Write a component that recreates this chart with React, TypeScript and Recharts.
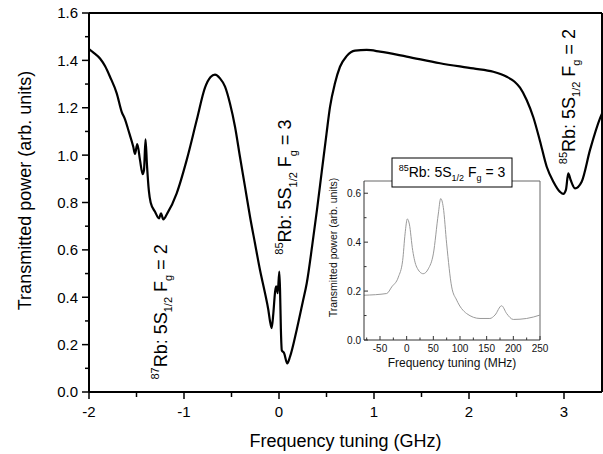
import React from 'react';
import { LineChart, Line, XAxis, YAxis, ReferenceLine, ReferenceDot } from 'recharts';

const FONT = '"Liberation Sans", Arial, Helvetica, sans-serif';

// ---- main spectrum (GHz, arb. units) ----
const mainFrequencyGHz = [
  -2.0, -1.95, -1.884, -1.83, -1.779, -1.708, -1.656, -1.62, -1.586, -1.534, -1.516, -1.492,
  -1.463, -1.435, -1.421, -1.405, -1.39, -1.37, -1.351, -1.305, -1.263, -1.242, -1.218, -1.176,
  -1.077, -0.972, -0.866, -0.779, -0.72, -0.674, -0.621, -0.568, -0.516, -0.463, -0.411, -0.358,
  -0.305, -0.253, -0.2, -0.147, -0.112, -0.095, -0.077, -0.06, -0.042, -0.032, -0.024, -0.014,
  0.003, 0.011, 0.02, 0.03, 0.053, 0.087, 0.116, 0.186, 0.25, 0.292, 0.35, 0.4, 0.45, 0.5, 0.537,
  0.589, 0.642, 0.712, 0.8, 0.923, 1.063, 1.344, 1.695, 2.045, 2.256, 2.397, 2.48, 2.537, 2.607,
  2.677, 2.747, 2.818, 2.888, 2.958, 2.993, 3.02, 3.045, 3.07, 3.116, 3.186, 3.274, 3.379, 3.4,
];
const mainTransmittedPower = [
  1.448, 1.432, 1.408, 1.375, 1.331, 1.261, 1.183, 1.15, 1.106, 1.035, 1.005, 1.047,
  0.979, 0.92, 0.937, 1.067, 0.96, 0.85, 0.8, 0.761, 0.733, 0.754, 0.729, 0.754,
  0.839, 0.979, 1.148, 1.285, 1.33, 1.34, 1.324, 1.289, 1.218, 1.12, 0.993, 0.867,
  0.74, 0.628, 0.515, 0.417, 0.346, 0.3, 0.27, 0.33, 0.42, 0.445, 0.445, 0.417,
  0.508, 0.43, 0.262, 0.175, 0.165, 0.121, 0.149, 0.262, 0.38, 0.459, 0.62, 0.77, 0.93, 1.09, 1.204,
  1.303, 1.373, 1.418, 1.441, 1.444, 1.437, 1.416, 1.388, 1.366, 1.352, 1.331, 1.31, 1.285, 1.233,
  1.16, 1.06, 0.951, 0.888, 0.845, 0.836, 0.853, 0.923, 0.895, 0.86, 0.888, 1.022, 1.155, 1.175,
];
const mainXTicks = [-2, -1.5, -1, -0.5, 0, 0.5, 1, 1.5, 2, 2.5, 3];
const mainYTicks = [0, 0.1, 0.2, 0.3, 0.4, 0.5, 0.6, 0.7, 0.8, 0.9, 1.0, 1.1, 1.2, 1.3, 1.4, 1.5, 1.6];

// ---- inset spectrum (MHz, arb. units) ----
const insetFrequencyMHz = [
  -80, -37.5, -28, -15.6, -7.5, -3, 1.3, 5, 11.3, 18.8, 31, 40.6, 50, 59.3, 63.8, 68.7, 75,
  84.4, 93.8, 112.5, 137.5, 156, 165.6, 178, 187.5, 200, 225, 250,
];
const insetTransmittedPower = [
  0.183, 0.19, 0.217, 0.257, 0.325, 0.434, 0.495, 0.474, 0.366, 0.298, 0.271, 0.291, 0.352, 0.515,
  0.578, 0.542, 0.393, 0.217, 0.163, 0.108, 0.088, 0.088, 0.102, 0.14, 0.108, 0.084, 0.088, 0.102,
];
const insetXTicks = [-75, -50, -25, 0, 25, 50, 75, 100, 125, 150, 175, 200, 225, 250];
const insetYTicks = [0, 0.1, 0.2, 0.3, 0.4, 0.5, 0.6];

// ---- texts ----
const mainXTitle = 'Frequency tuning (GHz)';
const mainYTitle = 'Transmitted power (arb. units)';
const insetXTitle = 'Frequency tuning (MHz)';
const insetYTitle = 'Transmitted power (arb. units)';
const annotationIsotope = ['87', '85', '85'];
const annotationFg = ['2', '3', '2'];
const insetIsotope = '85';
const insetFg = '3';

const mainData = mainFrequencyGHz.map((x, i) => ({ x, y: mainTransmittedPower[i] }));
const insetData = insetFrequencyMHz.map((x, i) => ({ x, y: insetTransmittedPower[i] }));

// anchors of the rotated annotations (data coordinates)
const annotationAnchors = [
  { x: -1.179, y: 0.338 },
  { x: 0.13, y: 0.865 },
  { x: 3.116, y: 1.247 },
];

const MainXTick = (props: any) => {
  const { x, y, payload } = props;
  const v = payload.value;
  const major = Number.isInteger(v);
  return (
    <g>
      <line x1={x} x2={x} y1={y} y2={y + (major ? 7 : 5)} stroke="#000" strokeWidth={1.5} />
      {major && (
        <text x={x} y={y + 25} textAnchor="middle" fontSize={15} fontFamily={FONT} fill="#000">
          {String(v)}
        </text>
      )}
    </g>
  );
};

const MainYTick = (props: any) => {
  const { x, y, payload } = props;
  const v = payload.value;
  const major = Math.round(v * 10) % 2 === 0;
  return (
    <g>
      <line x1={x - (major ? 7 : 4)} x2={x} y1={y} y2={y} stroke="#000" strokeWidth={1.5} />
      {major && (
        <text x={x - 11} y={y} dy="0.36em" textAnchor="end" fontSize={15} fontFamily={FONT} fill="#000">
          {v.toFixed(1)}
        </text>
      )}
    </g>
  );
};

const InsetXTick = (props: any) => {
  const { x, y, payload } = props;
  const v = payload.value;
  const major = v % 50 === 0;
  return (
    <g>
      <line x1={x} x2={x} y1={y} y2={y - (major ? 4 : 2.5)} stroke="#333" strokeWidth={1} />
      {major && (
        <text x={x} y={y + 12} textAnchor="middle" fontSize={10} fontFamily={FONT} fill="#111">
          {String(v)}
        </text>
      )}
    </g>
  );
};

const InsetYTick = (props: any) => {
  const { x, y, payload } = props;
  const v = payload.value;
  const major = Math.round(v * 10) % 2 === 0;
  return (
    <g>
      <line x1={x} x2={x + (major ? 4 : 2.5)} y1={y} y2={y} stroke="#333" strokeWidth={1} />
      {major && (
        <text x={x - 3} y={y} dy="0.35em" textAnchor="end" fontSize={10} fontFamily={FONT} fill="#111">
          {v.toFixed(1)}
        </text>
      )}
    </g>
  );
};

const RbText = (p: { iso: string; fg: string; size: number; small: number }) => {
  const sup = p.size * 0.45;
  const sub = p.size * 0.3;
  return (
    <>
      <tspan fontSize={p.small} dy={-sup}>{p.iso}</tspan>
      <tspan dy={sup}>Rb: 5S</tspan>
      <tspan fontSize={p.small} dy={sub}>1/2</tspan>
      <tspan dy={-sub}> F</tspan>
      <tspan fontSize={p.small} dy={sub}>g</tspan>
      <tspan dy={-sub}> = {p.fg}</tspan>
    </>
  );
};

const makeRotLabel = (iso: string, fg: string) => (props: any) => {
  const { cx, cy } = props;
  return (
    <text
      transform={`translate(${cx},${cy}) rotate(-90)`}
      textAnchor="middle"
      fontSize={18}
      fontFamily={FONT}
      fill="#000"
    >
      <RbText iso={iso} fg={fg} size={18} small={11} />
    </text>
  );
};

const InsetTitleBox = (props: any) => {
  const { cx, cy } = props;
  return (
    <g>
      <rect x={cx - 60} y={cy - 23} width={120} height={29} fill="#fff" stroke="#000" strokeWidth={1} />
      <text x={cx} y={cy - 4} textAnchor="middle" fontSize={14} fontFamily={FONT} fill="#000">
        <RbText iso={insetIsotope} fg={insetFg} size={14} small={9} />
      </text>
    </g>
  );
};

const MainYTitle = (props: any) => {
  const vb = props.viewBox;
  return (
    <text
      transform={`translate(${vb.x + 31},${vb.y + vb.height / 2 - 12}) rotate(-90)`}
      textAnchor="middle"
      fontSize={18}
      fontFamily={FONT}
      fill="#000"
    >
      {mainYTitle}
    </text>
  );
};

const MainXTitle = (props: any) => {
  const vb = props.viewBox;
  return (
    <text x={vb.x + vb.width / 2} y={vb.y + 55} textAnchor="middle" fontSize={18} fontFamily={FONT} fill="#000">
      {mainXTitle}
    </text>
  );
};

const InsetYTitle = (props: any) => {
  const vb = props.viewBox;
  return (
    <text
      transform={`translate(${vb.x + 37},${vb.y + vb.height / 2 - 13}) rotate(-90)`}
      textAnchor="middle"
      fontSize={10.5}
      fontFamily={FONT}
      fill="#111"
    >
      {insetYTitle}
    </text>
  );
};

const InsetXTitle = (props: any) => {
  const vb = props.viewBox;
  return (
    <text x={vb.x + vb.width / 2} y={vb.y + 27} textAnchor="middle" fontSize={12} fontFamily={FONT} fill="#111">
      {insetXTitle}
    </text>
  );
};

export default function App() {
  return (
    <div style={{ position: 'absolute', left: 0, top: 0, width: 603, height: 454, background: '#fff' }}>
      <div style={{ position: 'absolute', left: 0, top: 0 }}>
        <LineChart width={603} height={454} data={mainData} margin={{ top: 13, right: 1, left: 0, bottom: 0 }}>
          <XAxis
            dataKey="x"
            type="number"
            domain={[-2, 3.4]}
            ticks={mainXTicks}
            interval={0}
            tickSize={0}
            tickMargin={0}
            tickLine={false}
            tick={<MainXTick />}
            axisLine={{ stroke: '#000', strokeWidth: 2 }}
            height={62}
            allowDataOverflow
            label={{ content: MainXTitle }}
          />
          <YAxis
            dataKey="y"
            type="number"
            domain={[0, 1.6]}
            ticks={mainYTicks}
            interval={0}
            tickSize={0}
            tickMargin={0}
            tickLine={false}
            tick={<MainYTick />}
            axisLine={{ stroke: '#000', strokeWidth: 2 }}
            width={89}
            allowDataOverflow
            label={{ content: MainYTitle }}
          />
          <ReferenceLine y={1.6} stroke="#000" strokeWidth={2} ifOverflow="visible" />
          <ReferenceLine x={3.4} stroke="#000" strokeWidth={2} ifOverflow="visible" />
          <Line
            type="monotone"
            dataKey="y"
            stroke="#000"
            strokeWidth={2.2}
            dot={false}
            activeDot={false}
            isAnimationActive={false}
          />
          {annotationAnchors.map((a, i) => (
            <ReferenceDot
              key={i}
              x={a.x}
              y={a.y}
              r={0}
              ifOverflow="visible"
              shape={makeRotLabel(annotationIsotope[i], annotationFg[i])}
            />
          ))}
        </LineChart>
      </div>
      <div style={{ position: 'absolute', left: 300, top: 150 }}>
        <LineChart width={250} height={230} data={insetData} margin={{ top: 31, right: 10, left: 0, bottom: 0 }}>
          <XAxis
            dataKey="x"
            type="number"
            domain={[-80, 250]}
            ticks={insetXTicks}
            interval={0}
            tickSize={0}
            tickMargin={0}
            tickLine={false}
            tick={<InsetXTick />}
            axisLine={{ stroke: '#333', strokeWidth: 1 }}
            height={40}
            allowDataOverflow
            label={{ content: InsetXTitle }}
          />
          <YAxis
            dataKey="y"
            type="number"
            domain={[0, 0.65]}
            ticks={insetYTicks}
            interval={0}
            tickSize={0}
            tickMargin={0}
            tickLine={false}
            tick={<InsetYTick />}
            axisLine={{ stroke: '#333', strokeWidth: 1 }}
            width={64}
            allowDataOverflow
            label={{ content: InsetYTitle }}
          />
          <ReferenceLine y={0.65} stroke="#666" strokeWidth={1} ifOverflow="visible" />
          <ReferenceLine x={250} stroke="#666" strokeWidth={1} ifOverflow="visible" />
          <Line
            type="monotone"
            dataKey="y"
            stroke="#9a9a9a"
            strokeWidth={1}
            dot={false}
            activeDot={false}
            isAnimationActive={false}
          />
          <ReferenceDot x={85} y={0.65} r={0} ifOverflow="visible" shape={InsetTitleBox} />
        </LineChart>
      </div>
    </div>
  );
}
